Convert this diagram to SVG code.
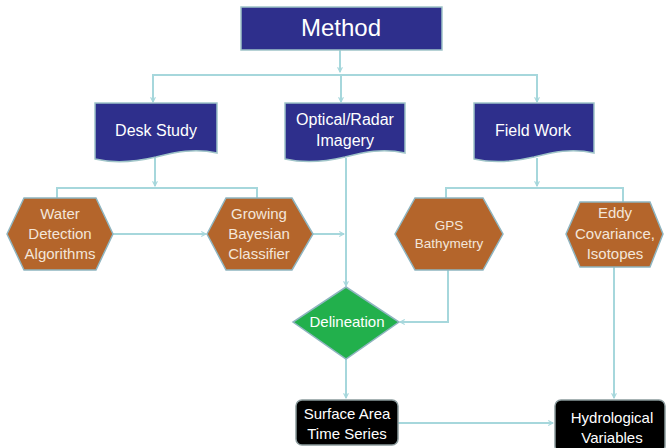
<svg xmlns="http://www.w3.org/2000/svg" width="667" height="448" viewBox="0 0 667 448">
<style>
.doc{fill:#2e2f8c;stroke:#9fc4c8;stroke-width:1.5}
.hex{fill:#b4652b;stroke:#8fb5c0;stroke-width:1.5}
.term{fill:#000;stroke:#8a9a9c;stroke-width:1.5}
.dia{fill:#22b04c;stroke:#8fb5c0;stroke-width:1.5}
text{font-family:"Liberation Sans",Arial,sans-serif;fill:#fff;text-anchor:middle;dominant-baseline:central}
.hx{fill:#f3e6da}
.cn{fill:none;stroke:#a6d7dc;stroke-width:2}
</style>
<defs>
<marker id="ah" viewBox="0 0 10 10" refX="9" refY="5" markerWidth="6" markerHeight="6" orient="auto" markerUnits="userSpaceOnUse">
<path d="M1,1 L9,5 L1,9" fill="none" stroke="#a6d7dc" stroke-width="1.8"/>
</marker>
</defs>
<g id="connectors">
<path class="cn" d="M340,50 V72" marker-end="url(#ah)"/>
<path class="cn" d="M153,102 V75 H537 V102" marker-end="url(#ah)"/>
<path class="cn" d="M153,75 V102" marker-end="url(#ah)"/>
<path class="cn" d="M341,75 V102" marker-end="url(#ah)"/>
<path class="cn" d="M155,158 V186" marker-end="url(#ah)"/>
<path class="cn" d="M57,198 V188 H257 V198"/>
<path class="cn" d="M113,234 H206" marker-end="url(#ah)"/>
<path class="cn" d="M313,234 H344" marker-end="url(#ah)"/>
<path class="cn" d="M346,158 V286" marker-end="url(#ah)"/>
<path class="cn" d="M537,158 V186" marker-end="url(#ah)"/>
<path class="cn" d="M446,198 V188 H623 V202"/>
<path class="cn" d="M448,270 V322 H400" marker-end="url(#ah)"/>
<path class="cn" d="M346,359 V398" marker-end="url(#ah)"/>
<path class="cn" d="M614,267 V398" marker-end="url(#ah)"/>
<path class="cn" d="M398,423 H553" marker-end="url(#ah)"/>
</g>
<g id="method">
<rect x="241" y="7" width="201" height="43" fill="#2e2f8c" stroke="#9fc4c8" stroke-width="1.5"/>
<text x="341" y="27" font-size="24">Method</text>
</g>
<g id="desk-study">
<path class="doc" d="M95,103 H217 V153 C195,148 175,152 156,157 C135,162 112,163 95,159 Z"/>
<text x="156" y="130" font-size="16">Desk Study</text>
</g>
<g id="optical-radar">
<path class="doc" d="M285,103 H405 V153 C383,148 364,152 345,157 C324,162 303,163 285,159 Z"/>
<text x="345" y="119" font-size="16">Optical/Radar</text>
<text x="345" y="140" font-size="16">Imagery</text>
</g>
<g id="field-work">
<path class="doc" d="M474,103 H594 V153 C572,148 553,152 534,157 C513,162 492,163 474,159 Z"/>
<text x="533" y="130" font-size="16">Field Work</text>
</g>
<g id="water-detection">
<polygon class="hex" points="7,234 24,198 96,198 113,234 96,270 24,270"/>
<text class="hx" x="60" y="213" font-size="15">Water</text>
<text class="hx" x="60" y="233" font-size="15">Detection</text>
<text class="hx" x="60" y="253" font-size="15">Algorithms</text>
</g>
<g id="growing-bayesian">
<polygon class="hex" points="207,234 226,198 292,198 313,234 292,270 226,270"/>
<text class="hx" x="259" y="213" font-size="15">Growing</text>
<text class="hx" x="259" y="233" font-size="15">Bayesian</text>
<text class="hx" x="259" y="253" font-size="15">Classifier</text>
</g>
<g id="gps-bathymetry">
<polygon class="hex" points="395,234 415,198 483,198 503,234 483,270 415,270"/>
<text class="hx" x="449" y="225" font-size="13.5">GPS</text>
<text class="hx" x="449" y="243" font-size="13.5">Bathymetry</text>
</g>
<g id="eddy-covariance">
<polygon class="hex" points="566,234 580,202 650,202 663,234 650,267 580,267"/>
<text class="hx" x="615" y="212" font-size="15">Eddy</text>
<text class="hx" x="615" y="233" font-size="15">Covariance,</text>
<text class="hx" x="615" y="253" font-size="15">Isotopes</text>
</g>
<g id="delineation">
<polygon class="dia" points="346,287 399,322 346,359 293,322"/>
<text x="347" y="321" font-size="15">Delineation</text>
</g>
<g id="surface-area">
<rect class="term" x="296" y="400" width="102" height="45" rx="6"/>
<text x="347" y="413" font-size="15">Surface Area</text>
<text x="347" y="433" font-size="15">Time Series</text>
</g>
<g id="hydrological">
<rect class="term" x="555" y="400" width="110" height="52" rx="6"/>
<text x="612" y="417" font-size="15">Hydrological</text>
<text x="612" y="437" font-size="15">Variables</text>
</g>
</svg>
